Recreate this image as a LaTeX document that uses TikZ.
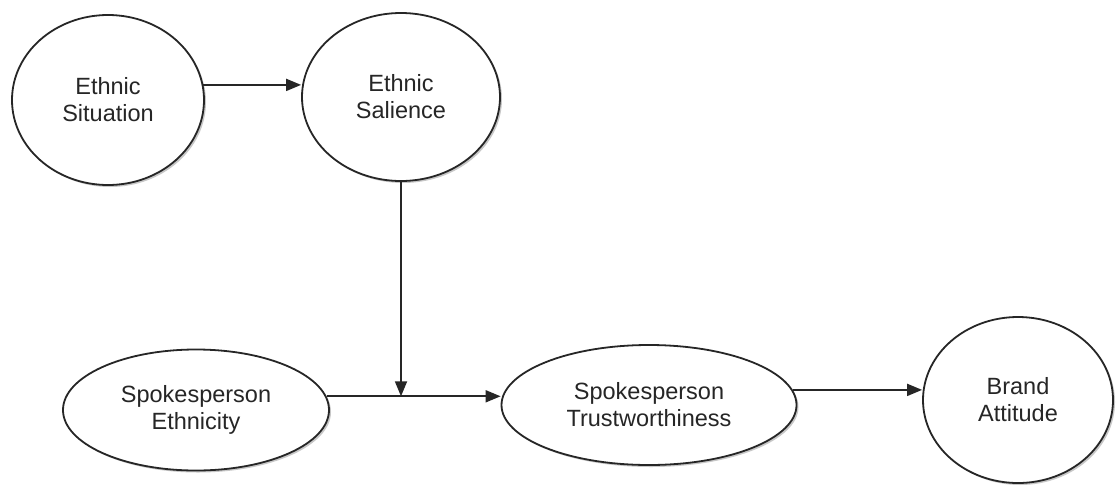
\documentclass[tikz,border=0pt]{standalone}
\usepackage{fontspec}
\setmainfont{Liberation Sans}
\usetikzlibrary{shapes.geometric,arrows.meta,shadows}

\tikzset{
  construct/.style={
    ellipse, draw=black!85, line width=1.8pt, fill=white, align=center,
    inner sep=0pt, font=\fontsize{23.5}{27}\selectfont\color{black!85},
    drop shadow={shadow xshift=2pt, shadow yshift=-2pt, opacity=0.4, fill=black!55}
  },
  arr/.style={draw=black!85, line width=1.8pt,
    -{Triangle[length=15pt,width=12pt]}}
}

\begin{document}
\begin{tikzpicture}[x=1pt,y=-1pt]
  % canvas
  \fill[white] (0,0) rectangle (1118,485);
  \useasboundingbox (0,0) rectangle (1118,485);

  % constructs
  \node[construct, minimum width=192pt, minimum height=170pt] (sit) at (108,100) {Ethnic\\Situation};
  \node[construct, minimum width=198pt, minimum height=168pt] (sal) at (401,97) {Ethnic\\Salience};
  \node[construct, minimum width=266pt, minimum height=121pt] (eth) at (196,410) {Spokesperson\\Ethnicity};
  \node[construct, minimum width=295pt, minimum height=120pt] (tru) at (649,405) {Spokesperson\\Trustworthiness};
  \node[construct, minimum width=190pt, minimum height=166pt] (bra) at (1018,400) {Brand\\Attitude};

  % paths
  \draw[arr] (sit.9) -- (sit.9 -| sal.west);
  \draw[arr] (eth.6) -- (eth.6 -| tru.west);
  \coordinate (j) at (sal.south |- eth.6);
  \draw[arr] (sal.south) -- (j);
  \draw[arr] (tru.6) -- (tru.6 -| bra.west);
\end{tikzpicture}
\end{document}
